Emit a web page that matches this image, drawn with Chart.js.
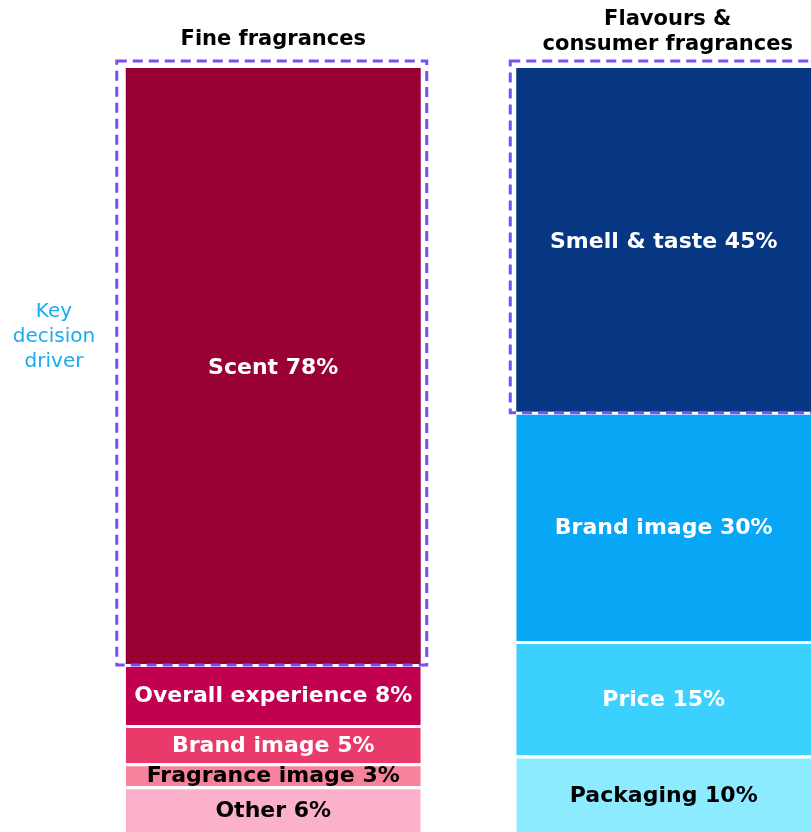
<!DOCTYPE html>
<html>
<head>
<meta charset="utf-8">
<script src="https://cdn.jsdelivr.net/npm/chart.js@4"></script>
<style>
  html, body { margin: 0; padding: 0; background: #fff; overflow: hidden; }
  #wrap { width: 859px; height: 832px; }
</style>
</head>
<body>
<div id="wrap"><canvas id="driversChart" width="859" height="832"></canvas></div>
<script>
// Segmentos de cada barra, de arriba a abajo
const groups = ['Fine fragrances', 'Flavours &\nconsumer fragrances'];

const fineLabels = ['Scent', 'Overall experience', 'Brand image', 'Fragrance image', 'Other'];
const fineValues = [78, 8, 5, 3, 6];
const fineColors = ['#990033', '#C1004F', '#EA3A6A', '#F7829C', '#FBB1C9'];
const fineText = ['#fff', '#fff', '#fff', '#000', '#000'];

const flavLabels = ['Smell & taste', 'Brand image', 'Price', 'Packaging'];
const flavValues = [45, 30, 15, 10];
const flavColors = ['#073782', '#07A7F5', '#3CD0FF', '#8DEBFF'];
const flavText = ['#fff', '#fff', '#fff', '#000'];

const sideNote = ['Key', 'decision', 'driver'];

function buildSets(labels, values, colors, text, col) {
    return labels.map((l, i) => {
        const data = [null, null];
        data[col] = values[i];
        return {
            label: l,
            data: data,
            backgroundColor: colors[i],
            borderColor: '#fff',
            borderWidth: { top: i === 0 ? 0 : 3, bottom: 0, left: 0, right: 0 },
            borderSkipped: false,
            textColor: text[i],
            keyDriver: i === 0
        };
    }).reverse(); // el primero de la lista queda arriba
}

const datasets = [
    ...buildSets(fineLabels, fineValues, fineColors, fineText, 0),
    ...buildSets(flavLabels, flavValues, flavColors, flavText, 1)
];

const FONT = '"DejaVu Sans", Verdana, sans-serif';

const decorPlugin = {
    id: 'decor',
    afterDatasetsDraw(chart) {
        const ctx = chart.ctx;
        ctx.save();
        ctx.textAlign = 'center';
        ctx.textBaseline = 'middle';

        chart.data.datasets.forEach((ds, di) => {
            const meta = chart.getDatasetMeta(di);
            meta.data.forEach((el, idx) => {
                const v = ds.data[idx];
                if (v == null) return;
                const top = Math.min(el.y, el.base);
                const bot = Math.max(el.y, el.base);
                ctx.fillStyle = ds.textColor;
                ctx.font = 'bold 22px ' + FONT;
                ctx.fillText(ds.label + ' ' + v + '%', el.x, (top + bot) / 2 + 2);

                // recuadro punteado del factor principal
                if (ds.keyDriver) {
                    const half = el.width / 2;
                    const padL = idx === 0 ? 9 : 6;
                    ctx.strokeStyle = '#7B4DFF';
                    ctx.lineWidth = 3;
                    ctx.setLineDash([10, 6]);
                    ctx.strokeRect(el.x - half - padL, top - 7, el.width + padL + 6, bot - top + 8);
                    ctx.setLineDash([]);
                }
            });
        });

        // títulos sobre cada barra
        const x = chart.scales.x;
        ctx.fillStyle = '#000';
        ctx.font = 'bold 21px ' + FONT;
        groups.forEach((g, i) => {
            const lines = g.split('\n');
            const cx = x.getPixelForValue(i) + (i === 1 ? 4 : 0);
            const y0 = lines.length === 1 ? 40 : 20;
            lines.forEach((ln, k) => ctx.fillText(ln, cx, y0 + k * 25));
        });

        ctx.fillStyle = '#1AABEF';
        ctx.font = '20px ' + FONT;
        sideNote.forEach((ln, k) => ctx.fillText(ln, 54, 312 + k * 25));
        ctx.restore();
    }
};

new Chart(document.getElementById('driversChart'), {
    type: 'bar',
    data: { labels: groups, datasets: datasets },
    options: {
        responsive: false,
        animation: false,
        devicePixelRatio: 1,
        layout: { padding: { top: 68, left: 78, right: 0, bottom: 0 } },
        datasets: { bar: { barPercentage: 0.7554, categoryPercentage: 1 } },
        plugins: { legend: { display: false }, tooltip: { enabled: false } },
        scales: {
            x: { stacked: true, display: false },
            y: { stacked: true, display: false, min: 0, max: 100 }
        }
    },
    plugins: [decorPlugin]
});
</script>
</body>
</html>
